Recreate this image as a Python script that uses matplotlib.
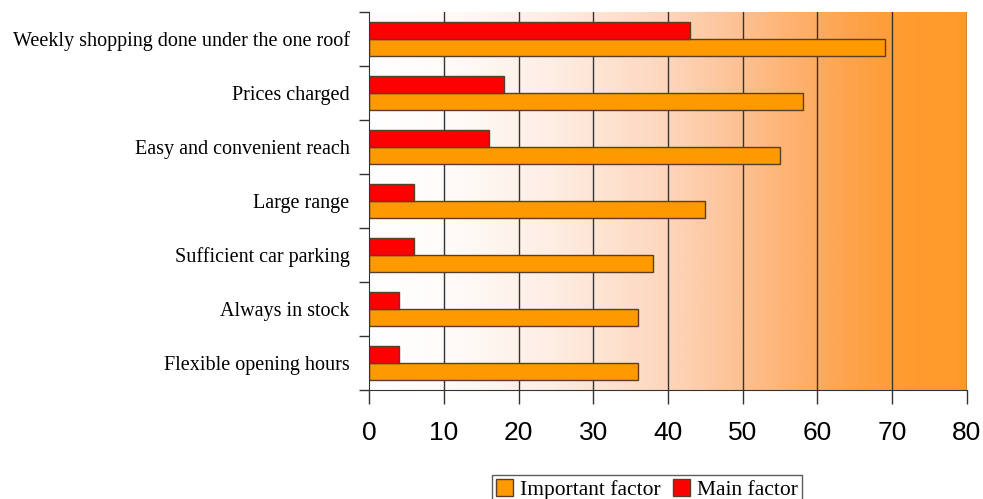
import numpy as np
import matplotlib
matplotlib.use('Agg')
import matplotlib.pyplot as plt
from matplotlib.colors import LinearSegmentedColormap
from matplotlib.patches import Patch

# data
categories = ['Weekly shopping done under the one roof', 'Prices charged',
              'Easy and convenient reach', 'Large range',
              'Sufficient car parking', 'Always in stock',
              'Flexible opening hours']
important = [69, 58, 55, 45, 38, 36, 36]
main_factor = [43, 18, 16, 6, 6, 4, 4]
xticks = [0, 10, 20, 30, 40, 50, 60, 70, 80]

ORANGE = '#FF9900'
RED = '#FF0000'
EDGE = '#5a3d2b'


def main():
    fig = plt.figure(figsize=(9.83, 4.99), dpi=100)
    ax = fig.add_axes([0.3754, 0.2184, 0.6083, 0.7575])

    n = len(categories)
    y = np.arange(n)

    # background gradient white -> orange
    cmap = LinearSegmentedColormap.from_list('bg', [
        (0.0, '#FFFFFF'), (0.12, '#FFFCFA'), (0.3, '#FEEEE4'),
        (0.5, '#FDD6BC'), (0.65, '#FDBC88'), (0.8, '#FDA44E'),
        (0.9, '#FF9C30'), (1.0, '#FF9A2A')])
    grad = np.linspace(0, 1, 400).reshape(1, -1)
    ax.imshow(grad, cmap=cmap, extent=[0, 80, n - 0.5, -0.5],
              aspect='auto', zorder=0, interpolation='bilinear')

    for xv in xticks[1:]:
        ax.axvline(xv, color='#333333', lw=1.0, zorder=1)

    h = 0.31
    ax.barh(y + h / 2, important, height=h, color=ORANGE, edgecolor=EDGE,
            linewidth=1.0, zorder=2)
    ax.barh(y - h / 2, main_factor, height=h, color=RED, edgecolor=EDGE,
            linewidth=1.0, zorder=2)

    ax.set_xlim(0, 80)
    ax.set_ylim(n - 0.5, -0.5)

    ax.set_xticks(xticks)
    ax.set_xticklabels([str(v) for v in xticks],
                       family='Liberation Sans', fontsize=19)
    ax.tick_params(axis='x', direction='out', length=10, width=1.0,
                   color='#333333', pad=12)

    ax.set_yticks(y)
    ax.set_yticklabels(categories, family='Liberation Serif', fontsize=14.5)
    ax.set_yticks(np.arange(n + 1) - 0.5, minor=True)
    ax.tick_params(axis='y', which='major', length=0, pad=14)
    ax.tick_params(axis='y', which='minor', direction='out', length=7,
                   width=1.0, color='#333333')

    for side in ['top', 'right']:
        ax.spines[side].set_visible(False)
    ax.spines['left'].set_color('#333333')
    ax.spines['bottom'].set_color('#333333')

    handles = [Patch(facecolor=ORANGE, edgecolor=EDGE, label='Important factor'),
               Patch(facecolor=RED, edgecolor=EDGE, label='Main factor')]
    leg = fig.legend(handles=handles, loc='upper center',
                     bbox_to_anchor=(0.658, 0.048), ncol=2, frameon=True,
                     fancybox=False, edgecolor='#333333', handlelength=0.8,
                     handleheight=0.8, handletextpad=0.3, columnspacing=0.6,
                     borderpad=0.2, borderaxespad=0,
                     prop={'family': 'Liberation Serif', 'size': 15.5})
    leg.get_frame().set_linewidth(1.0)

    fig.savefig('out.png', dpi=100)


if __name__ == '__main__':
    main()
